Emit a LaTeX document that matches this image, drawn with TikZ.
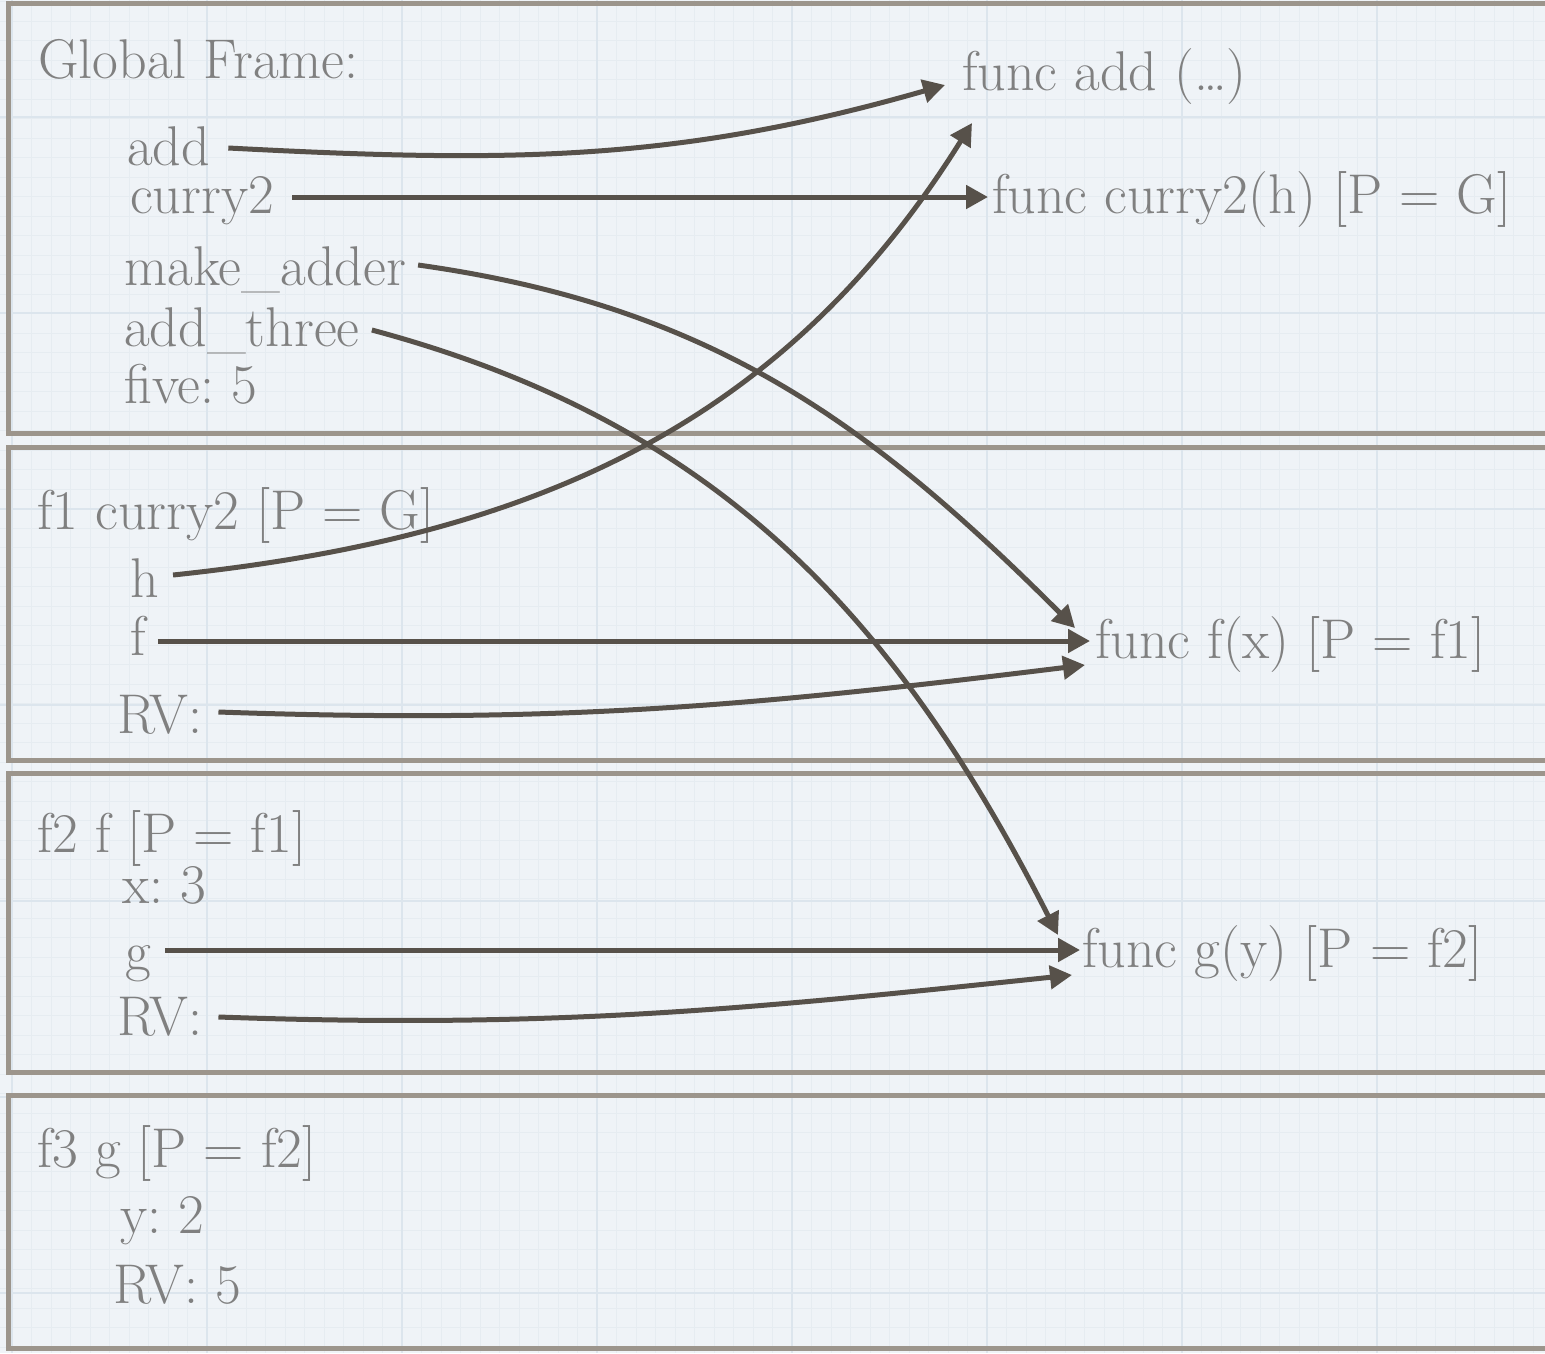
\documentclass[tikz,border=0pt]{standalone}
\usepackage{fontspec}
\usetikzlibrary{arrows.meta}
\frenchspacing

\definecolor{paper}{RGB}{239,243,247}
\definecolor{gridmajor}{RGB}{220,229,237}
\definecolor{gridminor}{RGB}{230,236,241}
\definecolor{framecol}{RGB}{156,149,140}
\definecolor{txtgray}{RGB}{128,128,128}
\definecolor{ptrcol}{RGB}{87,81,74}

\tikzset{
  lbl/.style={anchor=base west, inner sep=0pt, text=txtgray, font=\fontsize{56}{64}\selectfont},
  frm/.style={draw=framecol, line width=5pt},
  ptr/.style={draw=ptrcol, line width=5pt, -{Triangle[length=22pt,width=23pt]}},
}

\begin{document}
\begin{tikzpicture}[x=1pt,y=1pt]
\useasboundingbox (0,0) rectangle (1545,-1353);

% graph paper
\fill[paper] (0,0) rectangle (1545,-1353);
\foreach \gx in {12,31.5,...,1545}
  \draw[gridminor, line width=0.6pt] (\gx,0) -- (\gx,-1353);
\foreach \gy in {-1.5,-21,...,-1353}
  \draw[gridminor, line width=0.6pt] (0,\gy) -- (1545,\gy);
\foreach \gx in {12,207,...,1545}
  \draw[gridmajor, line width=1.5pt] (\gx,0) -- (\gx,-1353);
\foreach \gy in {-117,-313,...,-1353}
  \draw[gridmajor, line width=1.5pt] (0,\gy) -- (1545,\gy);

% frames
\draw[frm] (8,-3) rectangle (1560,-433);
\draw[frm] (8,-447) rectangle (1560,-760);
\draw[frm] (8,-773) rectangle (1560,-1072);
\draw[frm] (8,-1095) rectangle (1560,-1348);

% global frame
\node[lbl] (gf) at (38,-78) {Global Frame:};
\node[lbl] (add) at (127,-165) {add};
\node[lbl] (curry) at (130,-213) {curry2};
\node[lbl] (mkadd) at (124,-285) {make\_adder};
\node[lbl] (addthree) at (124,-346) {add\_three};
\node[lbl] (five) at (124,-403) {five: 5};
\node[lbl] (fadd) at (962,-90) {func add (\dots)};
\node[lbl] (fcurry) at (992,-213) {func curry2(h) [P = G]};

% f1
\node[lbl] (fone) at (37,-529) {f1 curry2 [P = G]};
\node[lbl] (h) at (130,-597) {h};
\node[lbl] (f) at (130,-655) {f};
\node[lbl] (rvone) at (117,-733) {RV:};
\node[lbl] (ffx) at (1095,-658) {func f(x) [P = f1]};

% f2
\node[lbl] (ftwo) at (37,-852) {f2 f [P = f1]};
\node[lbl] (x) at (122,-903) {x: 3};
\node[lbl] (g) at (125,-970) {g};
\node[lbl] (rvtwo) at (117,-1035) {RV:};
\node[lbl] (fgy) at (1082,-967) {func g(y) [P = f2]};

% f3
\node[lbl] (fthree) at (37,-1167) {f3 g [P = f2]};
\node[lbl] (y) at (120,-1233) {y: 2};
\node[lbl] (rvthree) at (113,-1303) {RV: 5};

% pointers
\draw[ptr] ([shift={(18pt,17pt)}]add.base east) to[out=-3,in=196] ([shift={(-17pt,5pt)}]fadd.base west);
\draw[ptr] ([shift={(18pt,16pt)}]curry.base east) -- ([shift={(-4pt,16pt)}]fcurry.base west);
\draw[ptr] ([shift={(12pt,20pt)}]mkadd.base east) to[out=-8,in=135] ([shift={(-20pt,30pt)}]ffx.base west);
\draw[ptr] ([shift={(12pt,16pt)}]addthree.base east) to[out=-15,in=117] ([shift={(-24pt,32pt)}]fgy.base west);
\draw[ptr] ([shift={(14pt,22pt)}]h.base east) to[out=6,in=238] ([shift={(10pt,-33pt)}]fadd.base west);
\draw[ptr] ([shift={(12pt,14pt)}]f.base east) -- ([shift={(-5pt,17pt)}]ffx.base west);
\draw[ptr] ([shift={(16pt,21pt)}]rvone.base east) to[out=-2,in=187] ([shift={(-10pt,-7pt)}]ffx.base west);
\draw[ptr] ([shift={(14pt,20pt)}]g.base east) -- ([shift={(-2pt,17pt)}]fgy.base west);
\draw[ptr] ([shift={(16pt,18pt)}]rvtwo.base east) to[out=-2,in=186] ([shift={(-10pt,-8pt)}]fgy.base west);
\end{tikzpicture}
\end{document}
